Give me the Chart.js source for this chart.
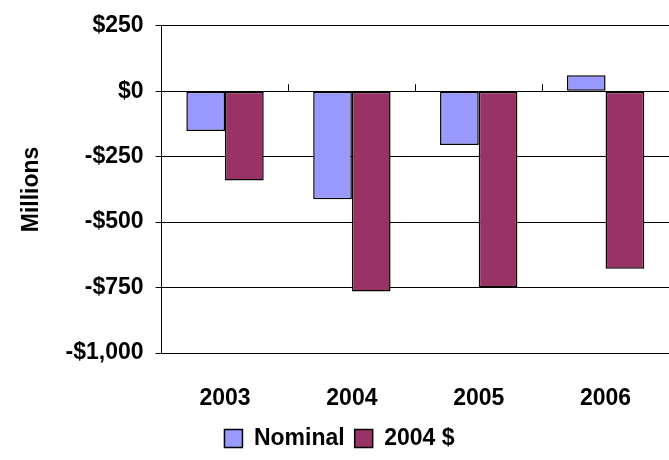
<!DOCTYPE html>
<html><head>
<script src="https://cdn.jsdelivr.net/npm/chart.js@4/dist/chart.umd.min.js"></script>
<style>body{margin:0;background:#fff}#c{display:block}</style>
</head><body>
<canvas id="c" width="669" height="460"></canvas>
<script>
var years = ["2003", "2004", "2005", "2006"];
var nominal = [-152, -413, -205, 61];
var real2004 = [-341, -765, -750, -678];
var yTicks = [250, 0, -250, -500, -750, -1000];

function money(v) {
  var s = "$" + Math.abs(v).toLocaleString("en-US");
  return v < 0 ? "-" + s : s;
}

// small category tick marks sitting on the zero line
var zeroTicks = {
  id: "zeroTicks",
  afterDatasetsDraw: function (chart) {
    var x = chart.scales.x, y = chart.scales.y, ctx = chart.ctx;
    var y0 = y.getPixelForValue(0);
    var step = x.getPixelForValue(1) - x.getPixelForValue(0);
    ctx.save();
    ctx.strokeStyle = "#000"; ctx.lineWidth = 1;
    ctx.beginPath();
    for (var i = 0; i < years.length - 1; i++) {
      var px = Math.round(x.getPixelForValue(i) + step / 2) + 0.5;
      ctx.moveTo(px, y0); ctx.lineTo(px, y0 - 7);
    }
    ctx.moveTo(chart.chartArea.left, Math.round(y0) + 0.5);
    ctx.lineTo(chart.chartArea.right, Math.round(y0) + 0.5);
    ctx.stroke();
    ctx.restore();
  }
};

new Chart(document.getElementById("c"), {
  type: "bar",
  data: {
    labels: years,
    datasets: [
      { label: "Nominal", data: nominal, backgroundColor: "#9999FF", borderColor: "#000", borderWidth: 1.5, borderSkipped: false },
      { label: "2004 $", data: real2004, backgroundColor: "#993366", borderColor: "#000", borderWidth: 1.5, borderSkipped: false }
    ]
  },
  options: {
    responsive: false,
    animation: false,
    layout: { padding: { top: 21, right: 0, bottom: 0, left: 10 } },
    datasets: { bar: { categoryPercentage: 0.61, barPercentage: 1 } },
    plugins: {
      legend: {
        position: "bottom",
        labels: { color: "#000", font: { family: "Liberation Sans", size: 23, weight: "bold" }, boxWidth: 18, boxHeight: 18, padding: 10 }
      },
      tooltip: { enabled: false }
    },
    scales: {
      x: {
        grid: { display: false, drawTicks: false },
        border: { color: "#000", width: 1 },
        afterFit: function (s) { s.height = 64; },
        ticks: { color: "#000", padding: 32, font: { family: "Liberation Sans", size: 23, weight: "bold" } }
      },
      y: {
        min: -1000, max: 250,
        afterBuildTicks: function (s) { s.ticks = yTicks.map(function (v) { return { value: v }; }); },
        grid: { color: "#000", lineWidth: 1, drawTicks: true, tickLength: 6 },
        border: { color: "#000", width: 1 },
        title: { display: true, text: "Millions", color: "#000", font: { family: "Liberation Sans", size: 23, weight: "bold" }, padding: 8 },
        ticks: { color: "#000", padding: 12, font: { family: "Liberation Sans", size: 23, weight: "bold" }, callback: function (v) { return money(v); } }
      }
    }
  },
  plugins: [zeroTicks]
});
</script>
</body></html>
